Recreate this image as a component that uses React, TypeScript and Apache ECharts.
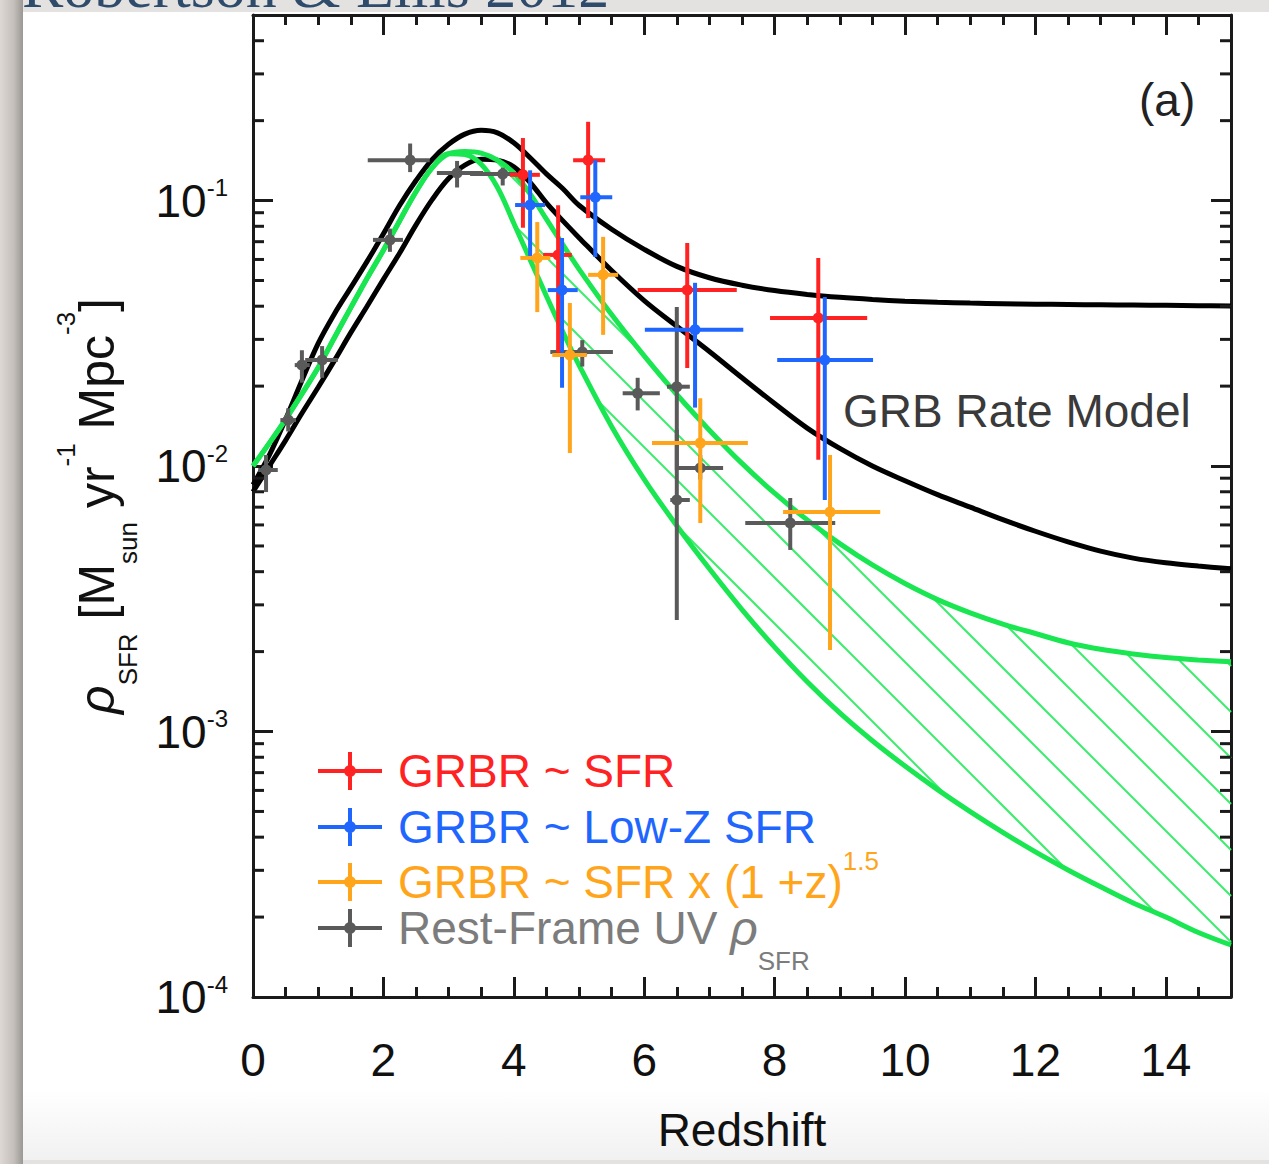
import React, { useEffect, useRef } from 'react';
import * as echarts from 'echarts';

const FONT = '"Liberation Sans", Arial, Helvetica, sans-serif';

// Redshift grid for model curves
const zGrid = [0, 0.25, 0.5, 0.75, 1, 1.25, 1.5, 1.75, 2, 2.25, 2.5, 2.75, 3, 3.25, 3.5, 3.75, 4, 4.25, 4.5, 4.75, 5,
  5.5, 6, 6.5, 7, 7.5, 8, 8.5, 9, 9.5, 10, 10.5, 11, 11.5, 12, 12.5, 13, 13.5, 14, 14.5, 15];
// GRB rate model curves (black)
const grbUpper = [0.0085, 0.011, 0.015, 0.021, 0.029, 0.0375, 0.047, 0.059, 0.075, 0.096, 0.119, 0.143, 0.163, 0.178, 0.184, 0.18, 0.165, 0.145, 0.126, 0.111, 0.096,
  0.078, 0.0655, 0.0565, 0.0512, 0.048, 0.0458, 0.0443, 0.0432, 0.0424, 0.0418, 0.0414, 0.0411, 0.0409, 0.0407, 0.0406, 0.0405, 0.0404, 0.0403, 0.0402, 0.0401];
const grbLower = [0.008, 0.01, 0.0125, 0.0158, 0.0198, 0.025, 0.0318, 0.04, 0.0505, 0.0635, 0.081, 0.101, 0.121, 0.136, 0.143, 0.142, 0.134, 0.117, 0.098, 0.084, 0.0725,
  0.0545, 0.042, 0.0336, 0.027, 0.0215, 0.0172, 0.0139, 0.01165, 0.01, 0.0088, 0.0078, 0.007, 0.00628, 0.00568, 0.00518, 0.00478, 0.0045, 0.00432, 0.0042, 0.0041];
// SFR fits (green, hatched between)
const sfrUpper = [0.01, 0.0122, 0.015, 0.0187, 0.0235, 0.0305, 0.0395, 0.051, 0.065, 0.084, 0.108, 0.133, 0.15, 0.153, 0.151, 0.142, 0.127, 0.106, 0.0851, 0.0684, 0.0552,
  0.0372, 0.026, 0.0186, 0.01365, 0.01023, 0.0079, 0.00627, 0.0051, 0.00424, 0.00361, 0.00314, 0.0028, 0.00254, 0.00234, 0.00216, 0.00204, 0.00196, 0.0019, 0.00186, 0.00183];
const sfrLower = [0.01, 0.0122, 0.015, 0.0187, 0.0235, 0.0305, 0.0395, 0.051, 0.065, 0.084, 0.108, 0.133, 0.15, 0.149, 0.137, 0.112, 0.0822, 0.0599, 0.0437, 0.0321, 0.024,
  0.0141, 0.00891, 0.00596, 0.0041, 0.00288, 0.00208, 0.00154, 0.001175, 0.000923, 0.000741, 0.000604, 0.000499, 0.000417, 0.000352, 0.000301, 0.00026, 0.000226, 0.0002, 0.000175, 0.000157];

// Data points: [z, rho, zLo, zHi, rhoLo, rhoHi]
const grbrSFR = [
  [4.14, 0.125, 3.94, 4.4, 0.079, 0.172],
  [4.68, 0.0624, 4.45, 4.89, 0.0267, 0.096],
  [5.14, 0.142, 4.91, 5.4, 0.0859, 0.198],
  [6.66, 0.046, 5.9, 7.42, 0.0234, 0.0692],
  [8.67, 0.0361, 7.93, 9.42, 0.01055, 0.0608],
];
const grbrLowZ = [
  [4.25, 0.0962, 4.02, 4.48, 0.0597, 0.13],
  [4.74, 0.046, 4.52, 4.98, 0.0197, 0.0722],
  [5.25, 0.103, 5.02, 5.51, 0.0613, 0.142],
  [6.78, 0.0326, 6.01, 7.52, 0.0166, 0.049],
  [8.77, 0.0251, 8.04, 9.51, 0.00745, 0.0433],
];
const grbrEvol = [
  [4.36, 0.0608, 4.1, 4.56, 0.038, 0.083],
  [4.86, 0.0262, 4.59, 5.12, 0.0112, 0.0411],
  [5.37, 0.0525, 5.14, 5.6, 0.0312, 0.073],
  [6.86, 0.0122, 6.12, 7.59, 0.0061, 0.018],
  [8.85, 0.00671, 8.13, 9.62, 0.00203, 0.011],
];
const uvData = [
  [0.2, 0.00966, 0.08, 0.38, 0.00798, 0.011],
  [0.54, 0.0149, 0.42, 0.66, 0.0135, 0.0165],
  [0.75, 0.024, 0.64, 0.87, 0.0206, 0.0273],
  [1.06, 0.0251, 0.8, 1.3, 0.0215, 0.0283],
  [2.1, 0.0711, 1.84, 2.3, 0.0641, 0.0784],
  [2.41, 0.142, 1.76, 2.71, 0.128, 0.164],
  [3.13, 0.127, 2.82, 3.53, 0.112, 0.141],
  [3.83, 0.126, 3.33, 4.05, 0.114, 0.133],
  [5.05, 0.0269, 4.56, 5.52, 0.0237, 0.0298],
  [5.9, 0.0188, 5.67, 6.24, 0.0162, 0.0215],
  [6.5, 0.0199, 6.35, 6.7, 0.00966, 0.0397],
  [6.5, 0.00745, 6.4, 6.7, 0.00263, 0.0137],
  [6.86, 0.00984, 6.5, 7.21, 0.0089, 0.011],
  [8.24, 0.0061, 7.55, 8.93, 0.00483, 0.00758],
];

// Minor tick values on the log axis
const yMinorTicks = [
  2e-4, 3e-4, 4e-4, 5e-4, 6e-4, 7e-4, 8e-4, 9e-4,
  2e-3, 3e-3, 4e-3, 5e-3, 6e-3, 7e-3, 8e-3, 9e-3,
  0.02, 0.03, 0.04, 0.05, 0.06, 0.07, 0.08, 0.09,
  0.2, 0.3, 0.4,
];

const seriesNames = ['GRBR ~ SFR', 'GRBR ~ Low-Z SFR', 'GRBR ~ SFR x (1+z)^1.5', 'Rest-Frame UV rho_SFR'];

const RED = '#ff2222';
const BLUE = '#1f66ff';
const ORANGE = '#ffa51c';
const GRAY = '#5a5a5a';
const GRAY_TXT = '#7c7c7c';
const GREEN = '#19e650';
const HATCH = '#3aee6c';
const AXIS = '#1a1a1a';

const ICON = 'path://M0,17 L64,17 L64,21 L0,21 Z M30,0 L34,0 L34,38 L30,38 Z M26,19 A6,6 0 1,1 38,19 A6,6 0 1,1 26,19 Z';

function interpY(pts: number[][], x: number): number {
  for (let i = 0; i < pts.length - 1; i++) {
    const a = pts[i];
    const b = pts[i + 1];
    if (x >= a[0] && x <= b[0]) {
      const t = (x - a[0]) / (b[0] - a[0] || 1);
      return a[1] + t * (b[1] - a[1]);
    }
  }
  return pts[pts.length - 1][1];
}

function errorBarSeries(name: string, data: number[][], color: string, z: number) {
  return {
    type: 'custom',
    name,
    z,
    data,
    dimensions: ['z', 'v', 'zl', 'zh', 'vl', 'vh'],
    encode: { x: 0, y: 1 },
    itemStyle: { color },
    renderItem: (params: any, api: any) => {
      const z0 = api.value(0);
      const v = api.value(1);
      const c = api.coord([z0, v]);
      const l = api.coord([api.value(2), v]);
      const r = api.coord([api.value(3), v]);
      const b = api.coord([z0, api.value(4)]);
      const t = api.coord([z0, api.value(5)]);
      const st = { stroke: color, lineWidth: 4 };
      return {
        type: 'group',
        children: [
          { type: 'line', shape: { x1: l[0], y1: c[1], x2: r[0], y2: c[1] }, style: st },
          { type: 'line', shape: { x1: c[0], y1: t[1], x2: c[0], y2: b[1] }, style: st },
          { type: 'circle', shape: { cx: c[0], cy: c[1], r: 5.5 }, style: { fill: color } },
        ],
      };
    },
  };
}

function lineSeries(name: string, vals: number[], color: string, z: number) {
  return {
    type: 'line',
    name,
    z,
    data: zGrid.map((zz, i) => [zz, vals[i]]),
    showSymbol: false,
    symbol: 'none',
    smooth: 0.35,
    lineStyle: { color, width: 5 },
    silent: true,
  };
}

function makeLegend(name: string, color: string, top: number, formatter: string, rich: any) {
  return {
    show: true,
    left: 318,
    top,
    padding: 0,
    orient: 'vertical',
    selectedMode: false,
    itemWidth: 64,
    itemHeight: 38,
    data: [{ name, icon: ICON, itemStyle: { color } }],
    formatter: () => formatter,
    textStyle: { fontFamily: FONT, fontSize: 46, color, rich },
  };
}

function buildOption() {
  const tickStyle = { color: AXIS, width: 3 };
  const xCommon = { type: 'value', min: 0, max: 15, splitLine: { show: false } };
  const yCommon = { type: 'log', logBase: 10, min: 1e-4, max: 0.5, splitLine: { show: false } };

  const redRich = { sp: { width: 11, fontSize: 46 }, t: { fontSize: 46, lineHeight: 50, color: RED, fontFamily: FONT } };
  const blueRich = { sp: { width: 11, fontSize: 46 }, t: { fontSize: 46, lineHeight: 50, color: BLUE, fontFamily: FONT } };
  const orangeRich = {
    sp: { width: 11, fontSize: 46 },
    t: { fontSize: 46, lineHeight: 68, color: ORANGE, fontFamily: FONT },
    sup: { fontSize: 26, lineHeight: 26, verticalAlign: 'top', color: ORANGE, fontFamily: FONT },
  };
  const grayRich = {
    sp: { width: 11, fontSize: 46 },
    t: { fontSize: 46, lineHeight: 92, color: GRAY_TXT, fontFamily: FONT },
    rho: { fontSize: 48, lineHeight: 92, color: GRAY_TXT, fontStyle: 'italic', fontFamily: FONT },
    sub: { fontSize: 26, lineHeight: 26, verticalAlign: 'bottom', color: GRAY_TXT, fontFamily: FONT },
  };

  return {
    animation: false,
    backgroundColor: '#ffffff',
    grid: { left: 253, right: 38, top: 15, bottom: 167, containLabel: false },
    xAxis: [
      {
        ...xCommon,
        interval: 2,
        position: 'bottom',
        axisLine: { show: true, onZero: false, lineStyle: tickStyle },
        axisTick: { show: true, inside: true, length: 20, lineStyle: tickStyle },
        axisLabel: {
          show: true,
          margin: 40,
          fontSize: 46,
          fontFamily: FONT,
          color: '#111',
          formatter: (v: number) => (v === 15 ? '' : String(v)),
        },
        name: 'Redshift',
        nameLocation: 'middle',
        nameGap: 110,
        nameTextStyle: { fontSize: 46, fontFamily: FONT, color: '#111' },
      },
      {
        ...xCommon,
        interval: 0.5,
        position: 'bottom',
        axisLine: { show: false, onZero: false },
        axisTick: { show: true, inside: true, length: 10, lineStyle: tickStyle },
        axisLabel: { show: false },
      },
      {
        ...xCommon,
        interval: 2,
        position: 'top',
        axisLine: { show: true, onZero: false, lineStyle: tickStyle },
        axisTick: { show: true, inside: true, length: 20, lineStyle: tickStyle },
        axisLabel: { show: false },
      },
      {
        ...xCommon,
        interval: 0.5,
        position: 'top',
        axisLine: { show: false, onZero: false },
        axisTick: { show: true, inside: true, length: 10, lineStyle: tickStyle },
        axisLabel: { show: false },
      },
    ],
    yAxis: [
      {
        ...yCommon,
        position: 'left',
        axisLine: { show: true, onZero: false, lineStyle: tickStyle },
        axisTick: { show: true, inside: true, length: 20, lineStyle: tickStyle },
        axisLabel: {
          show: true,
          margin: 25,
          color: '#111',
          fontFamily: FONT,
          formatter: (v: number) => {
            const e = Math.log10(v);
            if (Math.abs(e - Math.round(e)) > 1e-6) return '';
            return '{b|10}{s|' + Math.round(e) + '}';
          },
          rich: {
            b: { fontSize: 46, lineHeight: 50, fontFamily: FONT, color: '#111' },
            s: { fontSize: 24, lineHeight: 28, verticalAlign: 'top', fontFamily: FONT, color: '#111' },
          },
        },
        name: '{rho|ρ}{sub|SFR}{m| [M}{sub|sun}{m| yr}{sup|-1}{m| Mpc}{sup|-3}{m|]}',
        nameLocation: 'middle',
        nameRotate: 90,
        nameGap: 112,
        nameTextStyle: {
          color: '#111',
          fontFamily: FONT,
          rich: {
            rho: { fontSize: 50, lineHeight: 88, fontStyle: 'italic', fontFamily: FONT, color: '#111' },
            m: { fontSize: 50, lineHeight: 88, fontFamily: FONT, color: '#111' },
            sub: { fontSize: 26, lineHeight: 26, verticalAlign: 'bottom', fontFamily: FONT, color: '#111' },
            sup: { fontSize: 26, lineHeight: 26, verticalAlign: 'top', fontFamily: FONT, color: '#111' },
          },
        },
      },
      {
        ...yCommon,
        position: 'right',
        axisLine: { show: true, onZero: false, lineStyle: tickStyle },
        axisTick: { show: true, inside: true, length: 20, lineStyle: tickStyle },
        axisLabel: { show: false },
      },
    ],
    legend: [
      makeLegend(seriesNames[0], RED, 748, '{sp| }{t|GRBR ~ SFR}', redRich),
      makeLegend(seriesNames[1], BLUE, 804, '{sp| }{t|GRBR ~ Low-Z SFR}', blueRich),
      makeLegend(seriesNames[2], ORANGE, 848, '{sp| }{t|GRBR ~ SFR x (1 +z)}{sup|1.5}', orangeRich),
      makeLegend(seriesNames[3], GRAY, 904, '{sp| }{t|Rest-Frame UV }{rho|ρ}{sub|SFR}', grayRich),
    ],
    graphic: [
      { type: 'rect', z: -30, silent: true, shape: { x: 0, y: 0, width: 1269, height: 1164 }, style: { fill: '#e4e2e0' } },
      {
        type: 'rect', z: -29, silent: true,
        shape: { x: 0, y: 0, width: 23, height: 1164 },
        style: {
          fill: new echarts.graphic.LinearGradient(0, 0, 1, 0, [
            { offset: 0, color: '#ddd8d3' },
            { offset: 0.6, color: '#c4bfba' },
            { offset: 1, color: '#9a9794' },
          ]),
        },
      },
      { type: 'rect', z: -28, silent: true, shape: { x: 23, y: 12, width: 1246, height: 1148 }, style: { fill: '#ffffff' } },
      {
        type: 'rect', z: -27, silent: true,
        shape: { x: 23, y: 1090, width: 1246, height: 70 },
        style: {
          fill: new echarts.graphic.LinearGradient(0, 0, 0, 1, [
            { offset: 0, color: '#ffffff' },
            { offset: 1, color: '#f1f1f1' },
          ]),
        },
      },
      {
        type: 'text', z: -26, silent: true,
        style: { text: 'Robertson & Ellis 2012', x: 22, y: 17, verticalAlign: 'bottom', font: '62px "Liberation Serif", serif', fill: '#2f4b6c' },
      },
      {
        type: 'text', z: 50, silent: true,
        style: { text: 'GRB Rate Model', x: 843, y: 411, verticalAlign: 'middle', font: '46px ' + FONT, fill: '#3a3a3a' },
      },
      {
        type: 'text', z: 50, silent: true,
        style: { text: '(a)', x: 1139, y: 100, verticalAlign: 'middle', font: '46px ' + FONT, fill: '#222' },
      },
    ],
    series: [
      {
        type: 'custom',
        name: 'hatch',
        z: 2,
        silent: true,
        data: [[7, 0.01]],
        dimensions: ['z', 'v'],
        encode: { x: 0, y: 1 },
        renderItem: (params: any, api: any) => {
          const up = zGrid.map((zz, i) => api.coord([zz, sfrUpper[i]]));
          const lo = zGrid.map((zz, i) => api.coord([zz, sfrLower[i]]));
          const x0 = Math.ceil(up[0][0]);
          const x1 = Math.floor(up[up.length - 1][0]);
          const yu: number[] = [];
          const yl: number[] = [];
          for (let x = x0; x <= x1; x++) {
            yu.push(interpY(up, x));
            yl.push(interpY(lo, x));
          }
          const slope = 1.0;
          const step = 46;
          const phase = 33;
          const children: any[] = [];
          const cMin = 0 - slope * x1;
          const cMax = 1164 - slope * x0;
          const nStart = Math.floor((cMin - phase) / step);
          const nEnd = Math.ceil((cMax - phase) / step);
          for (let n = nStart; n <= nEnd; n++) {
            const c = phase + n * step;
            let inSeg = false;
            let sx = 0;
            for (let k = 0; k < yu.length; k++) {
              const x = x0 + k;
              const y = slope * x + c;
              const inside = y >= yu[k] && y <= yl[k] && yl[k] - yu[k] > 2;
              if (inside && !inSeg) {
                inSeg = true;
                sx = x;
              }
              if (inSeg && (!inside || k === yu.length - 1)) {
                const ex = inside ? x : x - 1;
                if (ex > sx) {
                  children.push({
                    type: 'line',
                    shape: { x1: sx, y1: slope * sx + c, x2: ex, y2: slope * ex + c },
                    style: { stroke: HATCH, lineWidth: 2 },
                  });
                }
                inSeg = false;
              }
            }
          }
          return { type: 'group', children };
        },
      },
      lineSeries('grbUpper', grbUpper, '#000000', 3),
      lineSeries('grbLower', grbLower, '#000000', 3),
      lineSeries('sfrUpper', sfrUpper, GREEN, 4),
      lineSeries('sfrLower', sfrLower, GREEN, 4),
      {
        type: 'custom',
        name: 'minorTicks',
        z: 5,
        silent: true,
        data: yMinorTicks.map((v) => [0, v]),
        dimensions: ['z', 'v'],
        encode: { x: 0, y: 1 },
        renderItem: (params: any, api: any) => {
          const p = api.coord([0, api.value(1)]);
          const cs = params.coordSys;
          const st = { stroke: AXIS, lineWidth: 3 };
          return {
            type: 'group',
            children: [
              { type: 'line', shape: { x1: cs.x, y1: p[1], x2: cs.x + 11, y2: p[1] }, style: st },
              { type: 'line', shape: { x1: cs.x + cs.width - 11, y1: p[1], x2: cs.x + cs.width, y2: p[1] }, style: st },
            ],
          };
        },
      },
      errorBarSeries(seriesNames[3], uvData, GRAY, 6),
      errorBarSeries(seriesNames[0], grbrSFR, RED, 7),
      errorBarSeries(seriesNames[1], grbrLowZ, BLUE, 8),
      errorBarSeries(seriesNames[2], grbrEvol, ORANGE, 9),
    ],
  };
}

export default function App() {
  const ref = useRef<HTMLDivElement>(null);
  useEffect(() => {
    if (!ref.current) return;
    const chart = echarts.init(ref.current, null, { renderer: 'svg' });
    chart.setOption(buildOption() as any);
    return () => chart.dispose();
  }, []);
  return <div ref={ref} style={{ position: 'absolute', left: 0, top: 0, width: 1269, height: 1164 }} />;
}
